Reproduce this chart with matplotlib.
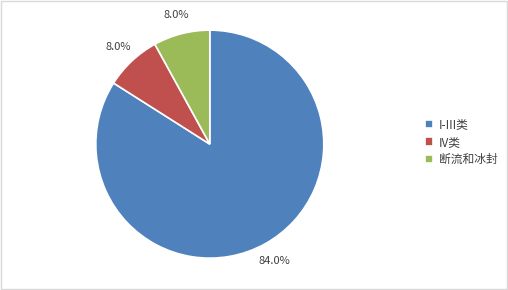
import matplotlib.pyplot as plt
from matplotlib.patches import Rectangle

plt.rcParams["font.family"] = ["Noto Sans CJK SC", "DejaVu Sans"]

categories = ["I-III类", "IV类", "断流和冰封"]
shares = [84.0, 8.0, 8.0]
colors = ["#4F81BD", "#C0504D", "#9BBB59"]

fig = plt.figure(figsize=(5.08, 2.90), dpi=100)
ax = fig.add_axes([0.413 - 0.2244, 0.503 - 0.3931, 0.4488, 0.7862])

wedges, texts, autotexts = ax.pie(
    shares,
    colors=colors,
    startangle=90,
    counterclock=False,
    autopct="%.1f%%",
    pctdistance=1.17,
    wedgeprops=dict(edgecolor="white", linewidth=1.2),
    textprops=dict(fontsize=8, color="#404040"),
)
ax.set_xlim(-1, 1)
ax.set_ylim(-1, 1)
ax.set_aspect("equal")

leg = fig.legend(
    wedges,
    categories,
    loc="center left",
    bbox_to_anchor=(0.815, 0.51),
    frameon=False,
    fontsize=8.5,
    handlelength=0.7,
    handleheight=0.7,
    handletextpad=0.5,
    labelspacing=0.4,
)
for t in leg.get_texts():
    t.set_color("#404040")

fig.patches.append(Rectangle((0.001, 0.002), 0.997, 0.995, transform=fig.transFigure,
                             fill=False, edgecolor="#D9D9D9", linewidth=1))

fig.savefig("out.png", dpi=100)
